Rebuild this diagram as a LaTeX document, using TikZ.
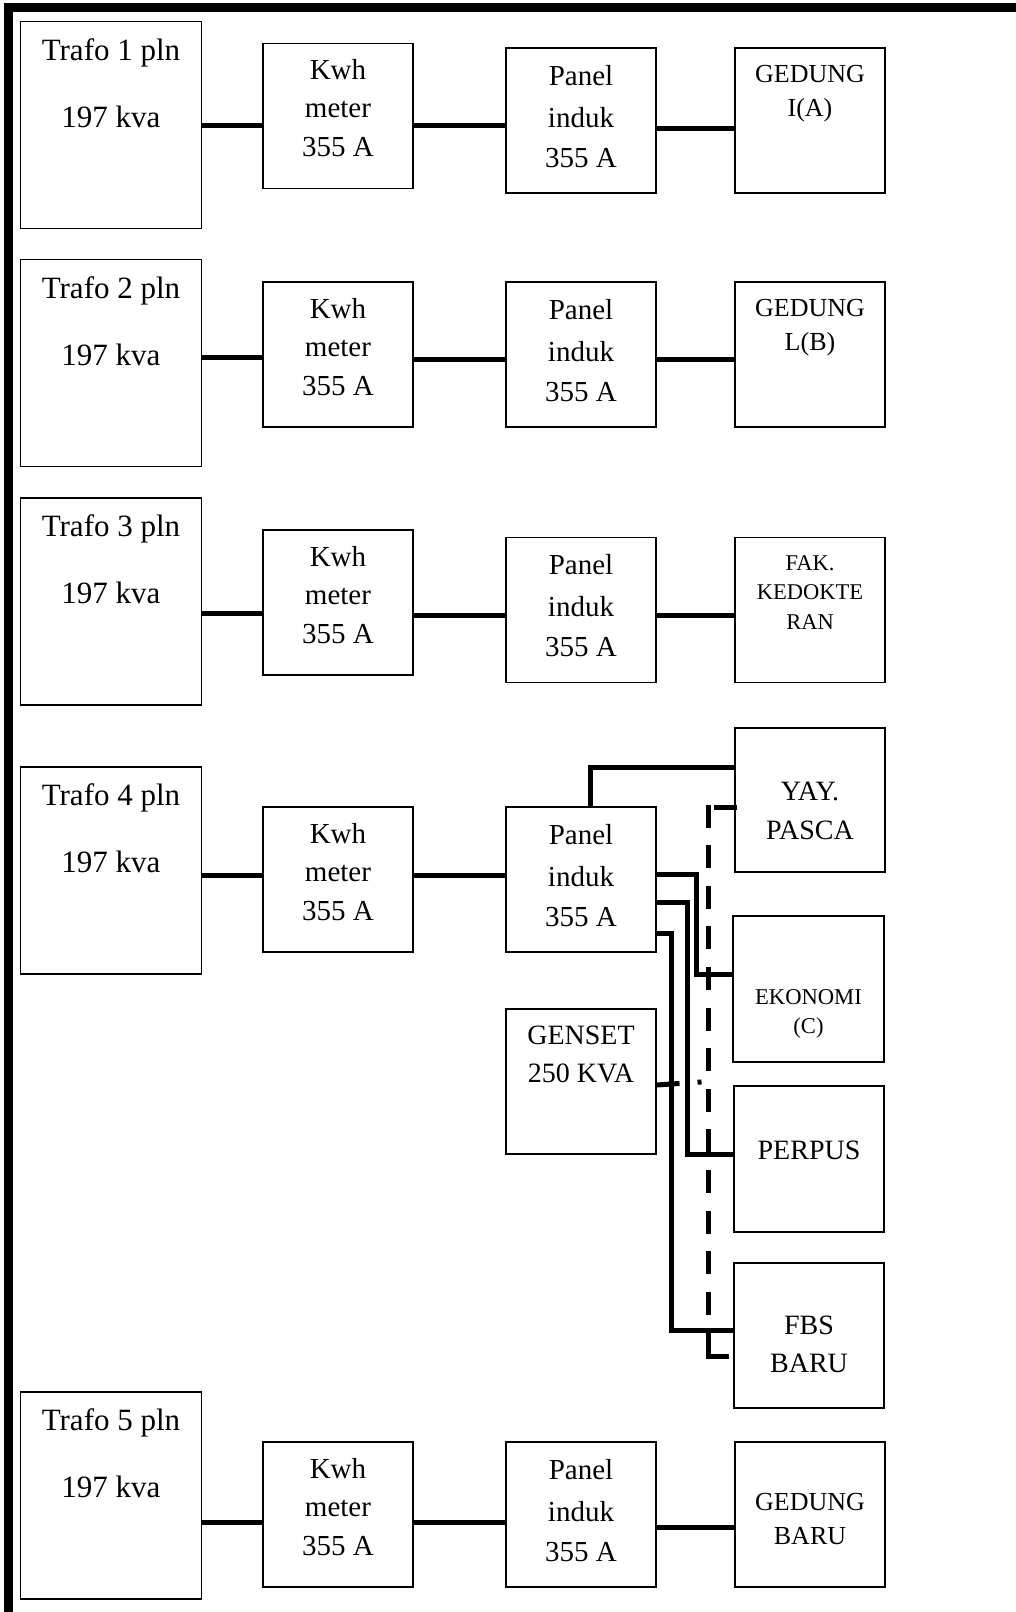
\documentclass[tikz,border=0pt]{standalone}
\usepackage{fontspec}
\setmainfont{Liberation Serif}
\usetikzlibrary{calc}
\begin{document}
\begin{tikzpicture}[x=1pt,y=-1pt,
  bx/.style={draw, line width=1.2pt, inner sep=0pt, minimum width=150pt, minimum height=145pt},
  tbx/.style={bx, minimum width=181pt, minimum height=207pt},
  tx/.style={anchor=base, inner sep=0pt, font=\fontsize{#1pt}{#1pt}\selectfont},
  wire/.style={line width=5pt},
  dwire/.style={line width=5pt, line cap=rect, dash pattern=on 18pt off 22.6pt},
  frame/.style={line width=9pt}]
\useasboundingbox (0,0) rectangle (1016,1612);
\draw[frame] (8.5,1620) -- (8.5,7) -- (1020,7);

% rows: trafo, kwh meter, panel induk
\foreach \i/\ty/\ky/\py/\wa/\wb in {1/125.2/116/120.5/125.5/125.5, 2/363/354.5/354.5/357/359, 3/601.5/602.5/610/613/615, 4/870.5/879.5/879.5/875/875, 5/1495.5/1514.5/1514.5/1522/1522} {
  \node[tbx] (t\i) at (111,\ty) {};
  \node[tx=31] (ta\i) at ($(t\i.north)+(0,39.3)$) {Trafo \i\ pln};
  \node[tx=31] (tb\i) at ($(t\i.north)+(0,106.3)$) {197 kva};
  \node[bx] (k\i) at (338,\ky) {};
  \node[tx=29] (ka\i) at ($(k\i.north)+(0,37)$) {Kwh};
  \node[tx=29] (kb\i) at ($(k\i.north)+(0,75)$) {meter};
  \node[tx=29] (kc\i) at ($(k\i.north)+(0,113.7)$) {355 A};
  \node[bx] (p\i) at (581,\py) {};
  \node[tx=29] (pa\i) at ($(p\i.north)+(0,38)$) {Panel};
  \node[tx=29] (pb\i) at ($(p\i.north)+(0,80)$) {induk};
  \node[tx=29] (pc\i) at ($(p\i.north)+(0,120)$) {355 A};
  \coordinate (ra\i) at (0,\wa);
  \coordinate (rb\i) at (0,\wb);
  \draw[wire] (t\i.east |- ra\i) -- (k\i.west |- ra\i);
  \draw[wire] (k\i.east |- rb\i) -- (p\i.west |- rb\i);
}

% buildings of rows 1,2,3,5
\node[bx] (g1) at (810,120.5) {};
\node[tx=26] (g1a) at ($(g1.north)+(0,35)$) {GEDUNG};
\node[tx=26] (g1b) at ($(g1.north)+(0,69)$) {I(A)};
\node[bx] (g2) at (810,354.5) {};
\node[tx=26] (g2a) at ($(g2.north)+(0,35)$) {GEDUNG};
\node[tx=26] (g2b) at ($(g2.north)+(0,69)$) {L(B)};
\node[bx] (g3) at (810,610) {};
\node[tx=22.5] (g3a) at ($(g3.north)+(0,34)$) {FAK.};
\node[tx=22.5] (g3b) at ($(g3.north)+(0,63)$) {KEDOKTE};
\node[tx=22.5] (g3c) at ($(g3.north)+(0,93)$) {RAN};
\node[bx] (g5) at (810,1514.5) {};
\node[tx=26] (g5a) at ($(g5.north)+(0,69)$) {GEDUNG};
\node[tx=26] (g5b) at ($(g5.north)+(0,103)$) {BARU};

\coordinate (rc1) at (0,128);
\coordinate (rc2) at (0,359);
\coordinate (rc3) at (0,615);
\coordinate (rc5) at (0,1527);
\draw[wire] (p1.east |- rc1) -- (g1.west |- rc1);
\draw[wire] (p2.east |- rc2) -- (g2.west |- rc2);
\draw[wire] (p3.east |- rc3) -- (g3.west |- rc3);
\draw[wire] (p5.east |- rc5) -- (g5.west |- rc5);

% row 4 loads
\node[bx, minimum height=144pt] (yay) at (810,800) {};
\node[tx=28] (yaya) at ($(yay.north)+(0,73)$) {YAY.};
\node[tx=28] (yayb) at ($(yay.north)+(0,112)$) {PASCA};
\node[bx, minimum width=151pt, minimum height=146pt] (eko) at (808.5,989) {};
\node[tx=22.6] (ekoa) at ($(eko.north)+(0,89)$) {EKONOMI};
\node[tx=22.6] (ekob) at ($(eko.north)+(0,118)$) {(C)};
\node[bx] (gen) at (581,1081.5) {};
\node[tx=28] (gena) at ($(gen.north)+(0,36)$) {GENSET};
\node[tx=28] (genb) at ($(gen.north)+(0,74)$) {250 KVA};
\node[bx, minimum height=146pt] (perp) at (809,1159) {};
\node[tx=28] (perpa) at ($(perp.north)+(0,74)$) {PERPUS};
\node[bx] (fbs) at (809,1335.5) {};
\node[tx=28] (fbsa) at ($(fbs.north)+(0,72)$) {FBS};
\node[tx=28] (fbsb) at ($(fbs.north)+(0,110)$) {BARU};

\draw[wire] ([xshift=9pt]p4.north) |- ([yshift=33pt]yay.west);
\draw[wire] ([yshift=5.5pt]p4.east) -- ++(40,0) |- ([yshift=15pt]eko.west);
\draw[wire] ([yshift=-22.5pt]p4.east) -- ++(31,0) |- ([yshift=5pt]perp.west);
\draw[wire] ([yshift=-53.5pt]p4.east) -- ++(15,0) |- ([yshift=5.5pt]fbs.west);

% genset (dashed) supply
\path ([yshift=-7pt]yay.west) coordinate (dS) ++(-26,0) coordinate (dA);
\path ([yshift=-20.5pt]fbs.west) coordinate (dE);
\coordinate (dB) at (dA |- dE);
\draw[dwire] (dS) -- (dA);
\draw[dwire] (dA) -- (dB);
\draw[dwire] (dB) -- (dE);
\draw[wire, dash pattern=on 23pt off 18pt on 4pt off 20pt] ([yshift=-3.5pt]gen.east) -- (gen.east -| dA);
\end{tikzpicture}
\end{document}
